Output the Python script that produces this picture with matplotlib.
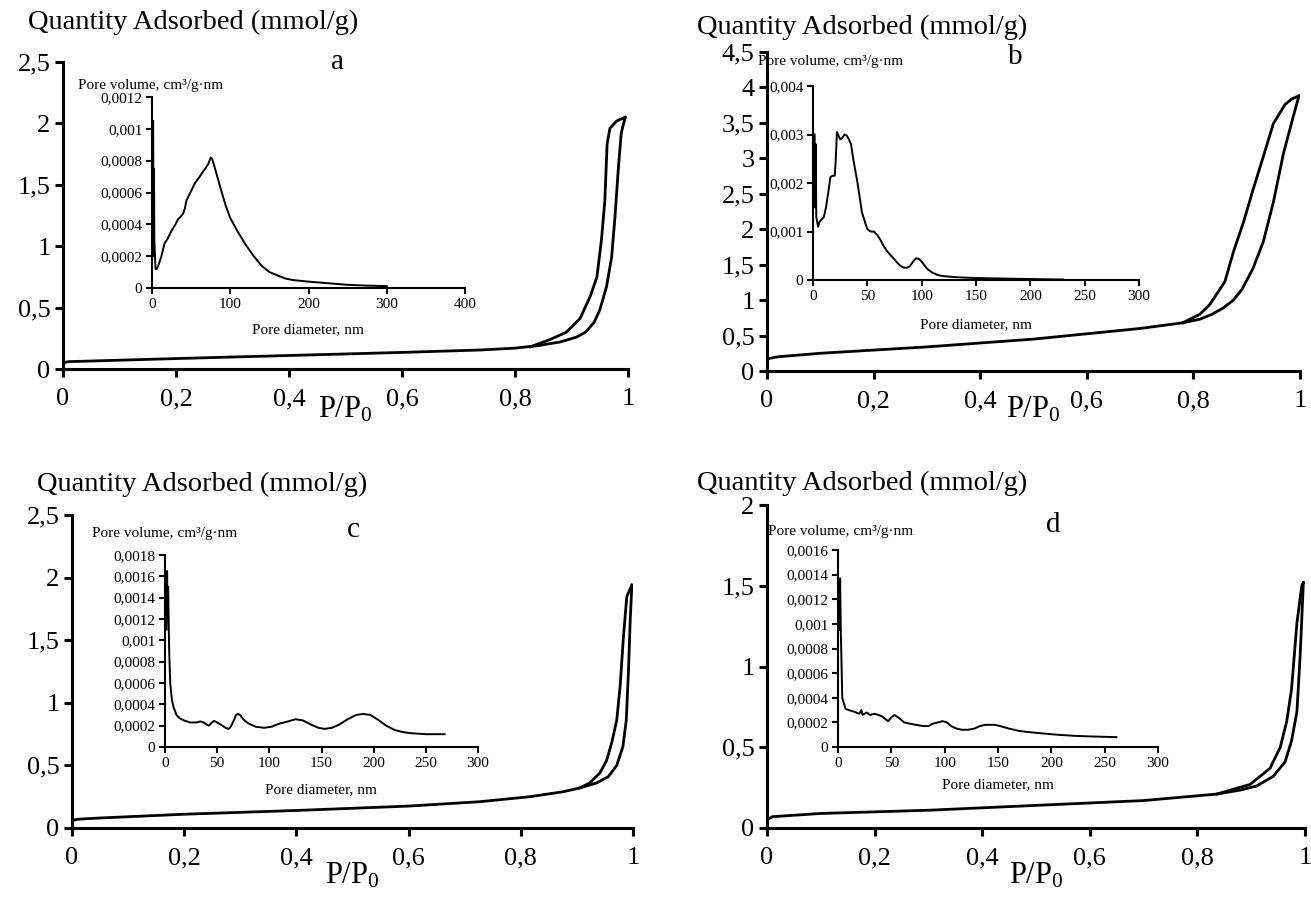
import matplotlib
matplotlib.use('Agg')
import matplotlib.pyplot as plt
from matplotlib.ticker import FuncFormatter, MultipleLocator

plt.rcParams['font.family'] = ['Liberation Serif', 'DejaVu Serif']
plt.rcParams['mathtext.fontset'] = 'custom'
plt.rcParams['mathtext.rm'] = 'Liberation Serif'
plt.rcParams['mathtext.it'] = 'Liberation Serif:italic'

# ---- isotherms (P/P0, mmol/g) ----
a_ads_p = [0.0, 0.01, 0.05, 0.2, 0.4, 0.6, 0.74, 0.8, 0.84, 0.88, 0.909, 0.925, 0.94, 0.95, 0.962, 0.971, 0.977, 0.983, 0.988, 0.995]
a_ads_q = [0.05, 0.06, 0.065, 0.085, 0.11, 0.135, 0.155, 0.17, 0.19, 0.22, 0.26, 0.3, 0.38, 0.48, 0.67, 0.91, 1.24, 1.64, 1.92, 2.05]
a_des_p = [0.995, 0.98, 0.968, 0.963, 0.959, 0.953, 0.945, 0.933, 0.915, 0.891, 0.862, 0.827]
a_des_q = [2.05, 2.02, 1.96, 1.83, 1.37, 1.05, 0.75, 0.59, 0.41, 0.30, 0.24, 0.18]

b_ads_p = [0.0, 0.02, 0.1, 0.3, 0.5, 0.7, 0.78, 0.812, 0.835, 0.856, 0.875, 0.891, 0.912, 0.931, 0.95, 0.969, 0.987, 0.998]
b_ads_q = [0.17, 0.2, 0.25, 0.34, 0.45, 0.6, 0.68, 0.73, 0.8, 0.89, 1.0, 1.15, 1.45, 1.82, 2.38, 3.07, 3.58, 3.88]
b_des_p = [0.998, 0.985, 0.972, 0.95, 0.931, 0.912, 0.894, 0.875, 0.859, 0.831, 0.812, 0.78]
b_des_q = [3.88, 3.84, 3.76, 3.49, 3.02, 2.56, 2.10, 1.68, 1.26, 0.94, 0.80, 0.68]

c_ads_p = [0.0, 0.01, 0.05, 0.2, 0.4, 0.6, 0.727, 0.816, 0.876, 0.905, 0.935, 0.956, 0.971, 0.982, 0.988, 0.992, 0.995, 0.998]
c_ads_q = [0.06, 0.07, 0.08, 0.11, 0.14, 0.175, 0.21, 0.25, 0.29, 0.32, 0.36, 0.41, 0.50, 0.65, 0.86, 1.26, 1.66, 1.94]
c_des_p = [0.998, 0.989, 0.983, 0.977, 0.971, 0.962, 0.953, 0.941, 0.923, 0.905]
c_des_q = [1.94, 1.85, 1.53, 1.13, 0.86, 0.68, 0.54, 0.44, 0.36, 0.32]

d_ads_p = [0.0, 0.01, 0.1, 0.3, 0.5, 0.7, 0.836, 0.88, 0.91, 0.941, 0.963, 0.975, 0.985, 0.991, 0.997]
d_ads_q = [0.05, 0.07, 0.09, 0.11, 0.14, 0.17, 0.21, 0.235, 0.26, 0.32, 0.41, 0.54, 0.72, 1.07, 1.52]
d_des_p = [0.997, 0.994, 0.985, 0.975, 0.966, 0.954, 0.935, 0.898, 0.836]
d_des_q = [1.52, 1.50, 1.27, 0.86, 0.66, 0.50, 0.37, 0.27, 0.21]

# ---- pore size distributions (nm, cm3/g nm) ----
a_pd = [1.5, 2, 2.5, 3, 4.5, 6, 8, 12, 16, 20, 25, 30, 33, 37, 40, 42, 44, 47, 50, 55, 61, 65, 68, 72, 75, 77, 80, 84, 88, 94,
        100, 110, 120, 130, 140, 150, 160, 170, 180, 190, 200, 225, 250, 275, 300]
a_pv = [0.00105, 0.0002, 0.00075, 0.0003, 0.00012, 0.00012, 0.00014, 0.0002, 0.00028, 0.00031, 0.00036, 0.0004, 0.00043,
        0.00045, 0.00047, 0.0005, 0.00055, 0.00058, 0.00061, 0.00066, 0.0007, 0.00073, 0.00075, 0.00078, 0.00082, 0.00081,
        0.00076, 0.00069, 0.00062, 0.00052, 0.00044, 0.00035, 0.00027, 0.0002, 0.00014, 0.0001, 0.00008, 0.00006, 0.00005,
        0.000045, 0.00004, 0.00003, 0.00002, 0.000015, 0.000012]

b_pd = [1.5, 2, 2.5, 3, 4.7, 6, 8, 10, 12, 14, 16, 18, 20, 21, 22, 23, 25, 27, 29, 31, 33, 35, 37, 39, 41, 43, 45, 48, 50,
        53, 56, 59, 62, 65, 68, 71, 74, 77, 80, 83, 86, 89, 92, 95, 98, 101, 105, 110, 115, 120, 130, 140, 150, 175, 200, 230]
b_pv = [0.003, 0.0015, 0.0028, 0.0013, 0.0011, 0.0012, 0.00125, 0.0013, 0.0015, 0.0018, 0.00212, 0.00215, 0.00215, 0.0025,
        0.00305, 0.003, 0.0029, 0.00293, 0.003, 0.00298, 0.0029, 0.0028, 0.0025, 0.00225, 0.002, 0.0017, 0.0014, 0.00118,
        0.00105, 0.001, 0.001, 0.00093, 0.00083, 0.0007, 0.0006, 0.00052, 0.00045, 0.00037, 0.0003, 0.00026, 0.00025,
        0.00028, 0.00038, 0.00045, 0.00043, 0.00035, 0.00023, 0.00015, 0.0001, 0.00008, 0.00006, 0.00005, 0.00004,
        0.00003, 0.00002, 0.00001]

c_pd = [1.5, 2, 2.5, 3, 4, 5, 6.5, 8, 11, 14, 18, 24, 30, 34, 37, 40, 42, 45, 47, 50, 55, 58, 61, 63, 66, 68, 70, 72, 75, 80,
        87, 95, 102, 110, 118, 125, 132, 140, 147, 153, 160, 167, 175, 183, 190, 197, 205, 212, 220, 228, 235, 250, 268]
c_pv = [0.0011, 0.00165, 0.0013, 0.0015, 0.0009, 0.0006, 0.00045, 0.00038, 0.0003, 0.00027, 0.00025, 0.00023, 0.00023,
        0.00024, 0.00023, 0.00021, 0.0002, 0.00023, 0.000245, 0.00023, 0.0002, 0.00018, 0.00017, 0.00019, 0.00025, 0.0003,
        0.00031, 0.0003, 0.00026, 0.00022, 0.00019, 0.00018, 0.00019, 0.00022, 0.00024, 0.00026, 0.00025, 0.00021,
        0.00018, 0.00017, 0.00018, 0.00021, 0.00026, 0.0003, 0.00031, 0.0003, 0.00025, 0.0002, 0.00016, 0.00014,
        0.00013, 0.00012, 0.00012]

d_pd = [1.5, 2, 2.5, 4, 7, 10, 14, 17, 20, 22, 23, 25, 27, 30, 34, 38, 41, 44, 47, 50, 53, 58, 62, 67, 73, 80, 85, 89, 94,
        98, 102, 106, 111, 116, 122, 128, 133, 138, 142, 147, 152, 160, 170, 180, 192, 205, 223, 240, 261]
d_pv = [0.00095, 0.00137, 0.001, 0.0004, 0.00031, 0.0003, 0.00029, 0.00028, 0.00027, 0.0003, 0.00026, 0.00027, 0.00028,
        0.00026, 0.00027, 0.00026, 0.00025, 0.00023, 0.00021, 0.00024, 0.00026, 0.00023, 0.0002, 0.00019, 0.00018, 0.00017,
        0.00017, 0.00019, 0.0002, 0.00021, 0.0002, 0.00017, 0.00015, 0.00014, 0.00014, 0.00015, 0.00017, 0.00018, 0.00018,
        0.00018, 0.00017, 0.00015, 0.00013, 0.00012, 0.00011, 0.0001, 0.00009, 0.000085, 0.00008]

W, H = 1311, 902
fig = plt.figure(figsize=(W / 100, H / 100), dpi=100)


def rect(l, r, b, t):
    return [l / W, 1 - b / H, (r - l) / W, (b - t) / H]


def comma(v, pos):
    return f'{v:g}'.replace('.', ',')


def style(ax, lw, tlen, fs):
    ax.spines['top'].set_visible(False)
    ax.spines['right'].set_visible(False)
    ax.spines['left'].set_linewidth(lw)
    ax.spines['bottom'].set_linewidth(lw)
    ax.tick_params(direction='out', length=tlen, width=lw, labelsize=fs, pad=3)
    ax.xaxis.set_major_formatter(FuncFormatter(comma))
    ax.yaxis.set_major_formatter(FuncFormatter(comma))
    ax.patch.set_alpha(0)


def main_panel(r, ymax, ystep, ads_p, ads_q, des_p, des_q):
    ax = fig.add_axes(rect(*r))
    ax.plot(ads_p, ads_q, color='black', lw=2.0, solid_joinstyle='round')
    ax.plot(des_p, des_q, color='black', lw=2.0, solid_joinstyle='round')
    ax.set_xlim(0, 1)
    ax.set_ylim(0, ymax)
    ax.xaxis.set_major_locator(MultipleLocator(0.2))
    ax.yaxis.set_major_locator(MultipleLocator(ystep))
    style(ax, 2.2, 6, 19)
    ax.tick_params(axis='x', pad=8)
    return ax


def inset(r, xmax, xstep, ymax, ystep, pd, pv):
    ax = fig.add_axes(rect(*r))
    ax.plot(pd, pv, color='black', lw=1.4, solid_joinstyle='round')
    ax.set_xlim(0, xmax)
    ax.set_ylim(0, ymax)
    ax.xaxis.set_major_locator(MultipleLocator(xstep))
    ax.yaxis.set_major_locator(MultipleLocator(ystep))
    style(ax, 1.5, 4, 11)
    return ax


main_panel((63, 628, 369, 62), 2.5, 0.5, a_ads_p, a_ads_q, a_des_p, a_des_q)
main_panel((767, 1300, 371, 52), 4.5, 0.5, b_ads_p, b_ads_q, b_des_p, b_des_q)
main_panel((72, 633, 828, 515), 2.5, 0.5, c_ads_p, c_ads_q, c_des_p, c_des_q)
main_panel((767, 1305, 828, 505), 2.0, 0.5, d_ads_p, d_ads_q, d_des_p, d_des_q)

inset((152, 465, 288, 97), 400, 100, 0.0012, 0.0002, a_pd, a_pv)
inset((813, 1139, 280, 86), 300, 50, 0.004, 0.001, b_pd, b_pv)
inset((165, 478, 747, 555), 300, 50, 0.0018, 0.0002, c_pd, c_pv)
inset((838, 1158, 747, 550), 300, 50, 0.0016, 0.0002, d_pd, d_pv)

ylab = 'Quantity Adsorbed (mmol/g)'
xlab = r'P/P$_\mathrm{0}$'
pv_lab = 'Pore volume, cm³/g·nm'
pd_lab = 'Pore diameter, nm'


def ftext(x, y, s, **kw):
    fig.text(x / W, 1 - y / H, s, **kw)


for x, y in [(28, 22), (697, 27), (37, 484), (697, 483)]:
    ftext(x, y, ylab, fontsize=20.5, ha='left', va='center')
for x, y in [(345, 410), (1033, 410), (352, 876), (1036, 876)]:
    ftext(x, y, xlab, fontsize=22, ha='center', va='center')
for x, y, s in [(337, 62, 'a'), (1015, 57, 'b'), (353, 530, 'c'), (1053, 525, 'd')]:
    ftext(x, y, s, fontsize=21, ha='center', va='center')
for x, y in [(78, 85), (758, 62), (92, 533), (768, 532)]:
    ftext(x, y, pv_lab, fontsize=11, ha='left', va='center')
for x, y in [(308, 330), (976, 325), (321, 790), (998, 785)]:
    ftext(x, y, pd_lab, fontsize=11, ha='center', va='center')

fig.savefig('out.png', dpi=100)
